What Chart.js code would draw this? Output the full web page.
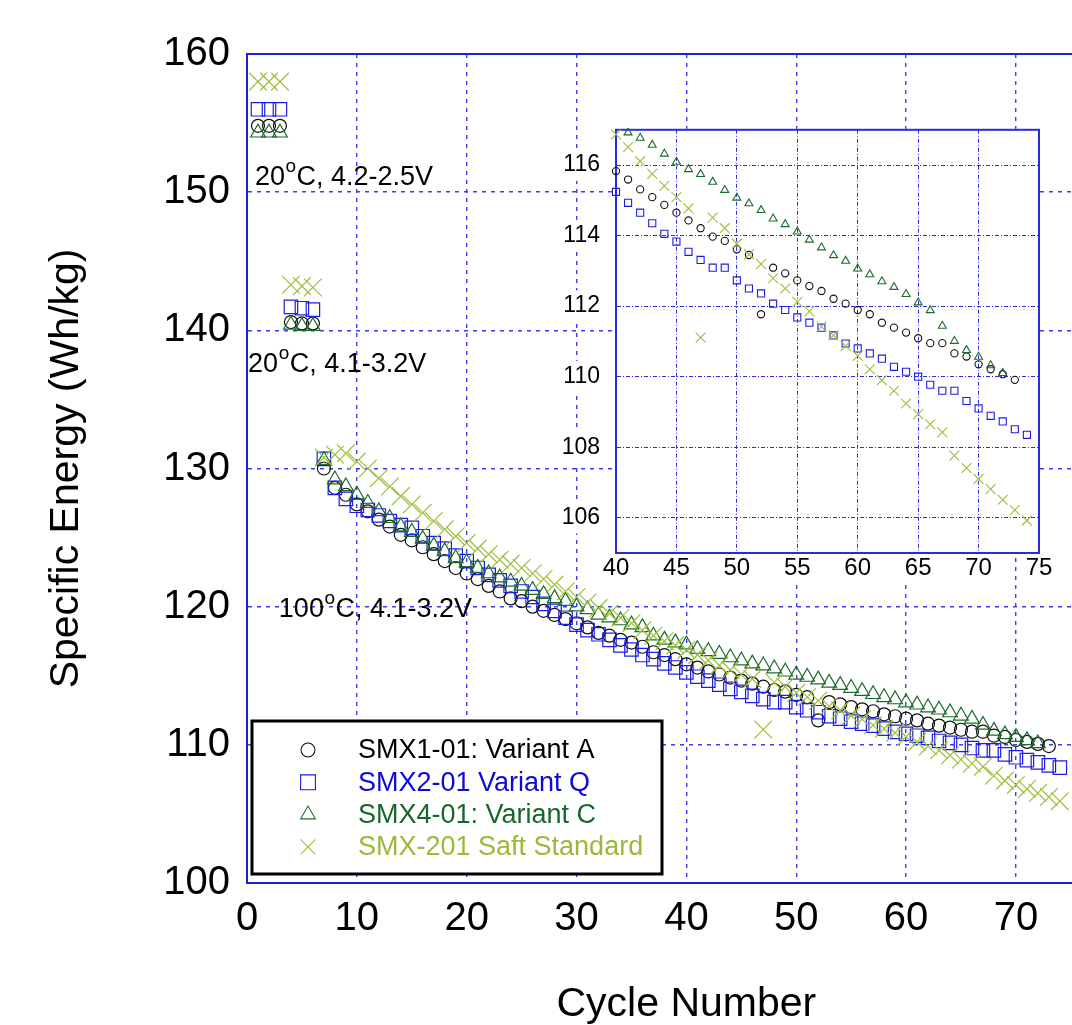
<!DOCTYPE html>
<html>
<head>
<meta charset="utf-8">
<script src="https://cdn.jsdelivr.net/npm/chart.js@4.4.1/dist/chart.umd.min.js"></script>
<style>
  html, body { margin: 0; padding: 0; background: #fff; overflow: hidden; width: 1072px; height: 1025px; }
  #main { position: absolute; left: 0; top: 0; }
  #inset { position: absolute; left: 520px; top: 100px; }
</style>
</head>
<body>
<canvas id="main" width="1160" height="1025"></canvas>
<canvas id="inset" width="552" height="500"></canvas>
<script>
// cycle numbers (shared x values)
const cycles = [1, 2, 3, 4, 5, 6, 7, 8, 9, 10, 11, 12, 13, 14, 15, 16, 17, 18, 19, 20,
  21, 22, 23, 24, 25, 26, 27, 28, 29, 30, 31, 32, 33, 34, 35, 36, 37, 38, 39, 40,
  41, 42, 43, 44, 45, 46, 47, 48, 49, 50, 51, 52, 53, 54, 55, 56, 57, 58, 59, 60,
  61, 62, 63, 64, 65, 66, 67, 68, 69, 70, 71, 72, 73, 74];

// specific energy, Wh/kg (null = no reading)
const variantA = [154.8, 154.8, 154.8, 140.6, 140.5, 140.5, 130.0, 128.6, 128.1, 127.4,
  126.9, 126.3, 125.8, 125.2, 124.8, 124.3, 123.8, 123.3, 122.8, 122.4,
  122.0, 121.5, 121.1, 120.6, 120.4, 120.0, 119.7, 119.4, 119.1, 118.8,
  118.5, 118.1, 117.9, 117.6, 117.4, 117.1, 116.7, 116.5, 116.2, 115.83,
  115.59, 115.31, 115.09, 114.87, 114.65, 114.43, 114.21, 113.97, 113.85, 113.61,
  113.45, 111.77, 113.09, 112.93, 112.73, 112.57, 112.43, 112.21, 112.07, 111.89,
  111.77, 111.53, 111.39, 111.25, 111.09, 110.95, 110.95, 110.66, 110.57, 110.35,
  110.21, 110.07, 109.91, null];

const variantQ = [156.0, 156.0, 156.0, 141.7, 141.6, 141.5, 130.7, 128.6, 127.8, 127.3,
  127.0, 126.6, 126.2, 125.9, 125.7, 125.1, 124.6, 124.2, 123.7, 123.3,
  122.8, 122.3, 121.9, 121.5, 121.1, 120.7, 120.2, 119.7, 119.2, 118.7,
  118.3, 118.0, 117.6, 117.2, 116.9, 116.5, 116.2, 115.9, 115.6, 115.24,
  114.93, 114.65, 114.35, 114.05, 113.83, 113.54, 113.31, 113.09, 113.09, 112.73,
  112.50, 112.36, 112.07, 111.89, 111.68, 111.53, 111.39, 111.17, 110.94, 110.80,
  110.66, 110.51, 110.28, 110.14, 110.00, 109.77, 109.60, 109.60, 109.31, 109.10,
  108.89, 108.73, 108.51, 108.35];

const variantC = [154.3, 154.3, 154.3, 140.4, 140.3, 140.3, 130.6, 129.2, 128.7, 128.1,
  127.5, 126.9, 126.4, 125.8, 125.4, 124.9, 124.4, 124.0, 123.5, 123.2,
  122.8, 122.4, 122.1, 121.8, 121.5, 121.2, 120.9, 120.6, 120.4, 120.0,
  119.8, 119.4, 119.2, 119.0, 118.7, 118.5, 117.9, 117.6, 117.4, 117.25,
  116.92, 116.77, 116.57, 116.32, 116.09, 115.88, 115.74, 115.52, 115.29, 115.07,
  114.91, 114.72, 114.48, 114.32, 114.11, 113.88, 113.66, 113.44, 113.28, 113.06,
  112.90, 112.70, 112.54, 112.34, 112.10, 111.88, 111.44, 111.01, 110.75, 110.56,
  110.32, 110.10, null, null];

const saftStandard = [158.0, 158.0, 158.0, 143.3, 143.2, 143.1, 130.8, 131.0, 131.1, 130.5,
  130.0, 129.3, 128.7, 128.0, 127.4, 126.8, 126.2, 125.6, 125.1, 124.6,
  124.2, 123.8, 123.4, 123.1, 122.8, 122.4, 122.0, 121.6, 121.1, 120.7,
  120.3, 119.9, 119.5, 119.2, 118.8, 118.3, 117.9, 117.5, 117.2, 116.87,
  116.51, 116.11, 115.75, 115.41, 115.09, 114.77, 111.11, 114.51, 114.21, 113.77,
  113.47, 113.19, 112.79, 112.50, 112.12, 111.85, 111.42, 111.17, 110.87, 110.59,
  110.21, 109.90, 109.60, 109.24, 108.94, 108.65, 108.42, 107.76, 107.41, 107.10,
  106.81, 106.51, 106.22, 105.92];

const seriesLabels = ['SMX1-01: Variant A', 'SMX2-01 Variant Q', 'SMX4-01: Variant C', 'SMX-201 Saft Standard'];

// tick labels
const mainXTicks = [0, 10, 20, 30, 40, 50, 60, 70, 80];
const mainYTicks = [100, 110, 120, 130, 140, 150, 160];
const insetXTicks = [40, 45, 50, 55, 60, 65, 70, 75];
const insetYTicks = [106, 108, 110, 112, 114, 116];

// ---------------- styling ----------------
const FONT = "'Liberation Sans', Arial, Helvetica, sans-serif";
Chart.defaults.font.family = FONT;
Chart.defaults.color = '#000';

const styles = [
  { pointStyle: 'circle',   color: '#111111', text: '#000000', r: 6.5,  ri: 3.6, rl: 7 },
  { pointStyle: 'rect',     color: '#1c1ce6', text: '#0b0bd4', r: 9.5,  ri: 5,   rl: 10.5 },
  { pointStyle: 'triangle', color: '#1d6b2b', text: '#17672a', r: 8.5,  ri: 4.6, rl: 8.5 },
  { pointStyle: 'crossRot', color: '#9dbf3c', text: '#9ab93a', r: 12.5, ri: 7,   rl: 10.5 }
];
const allSeries = [variantA, variantQ, variantC, saftStandard];

function toPoints(vals) {
  return cycles.map((c, i) => ({ x: c, y: vals[i] })).filter(p => p.y !== null);
}

function makeDatasets(inset) {
  return allSeries.map((vals, i) => ({
    label: seriesLabels[i],
    data: toPoints(vals),
    showLine: false,
    order: 4 - i,  // later series on top
    pointStyle: styles[i].pointStyle,
    pointRadius: inset ? styles[i].ri : styles[i].r,
    pointHoverRadius: inset ? styles[i].ri : styles[i].r,
    pointBorderColor: styles[i].color,
    pointBackgroundColor: 'rgba(0,0,0,0)',
    pointBorderWidth: inset ? 1.1 : 1.2,
    clip: inset ? { left: 8, right: 8, top: 2, bottom: 8 } : 8
  }));
}

function drawMarker(ctx, style, x, y, r) {
  ctx.beginPath();
  if (style === 'circle') {
    ctx.arc(x, y, r, 0, Math.PI * 2);
  } else if (style === 'rect') {
    const s = r * Math.SQRT1_2;
    ctx.rect(x - s, y - s, 2 * s, 2 * s);
  } else if (style === 'triangle') {
    ctx.moveTo(x, y - r);
    ctx.lineTo(x + r * 0.866, y + r / 2);
    ctx.lineTo(x - r * 0.866, y + r / 2);
    ctx.closePath();
  } else {
    const s = r * Math.SQRT1_2;
    ctx.moveTo(x - s, y - s); ctx.lineTo(x + s, y + s);
    ctx.moveTo(x + s, y - s); ctx.lineTo(x - s, y + s);
  }
  ctx.stroke();
}

// test-condition notes, anchored in data units
const notes = [
  { x: 0.72, y: 150.52, pre: '20',  post: 'C, 4.2-2.5V' },
  { x: 0.10, y: 136.99, pre: '20',  post: 'C, 4.1-3.2V' },
  { x: 2.90, y: 119.26, pre: '100', post: 'C, 4.1-3.2V' }
];

const mainDecor = {
  id: 'mainDecor',
  beforeDatasetsDraw(chart) {
    // top frame line (right side falls outside the page)
    const { ctx, chartArea: a } = chart;
    ctx.save();
    ctx.strokeStyle = '#1f1fd6';
    ctx.lineWidth = 2;
    ctx.beginPath();
    ctx.moveTo(a.left, a.top);
    ctx.lineTo(a.right, a.top);
    ctx.stroke();
    ctx.restore();
  },
  afterDraw(chart) {
    const { ctx, chartArea: a, scales } = chart;
    ctx.save();
    // notes
    ctx.fillStyle = '#000';
    ctx.textBaseline = 'alphabetic';
    notes.forEach(n => {
      const px = scales.x.getPixelForValue(n.x);
      const py = scales.y.getPixelForValue(n.y);
      ctx.font = '27px ' + FONT;
      ctx.fillText(n.pre, px, py);
      const w1 = ctx.measureText(n.pre).width;
      ctx.font = '19px ' + FONT;
      ctx.fillText('o', px + w1 + 0.5, py - 13);
      const w2 = ctx.measureText('o').width;
      ctx.font = '27px ' + FONT;
      ctx.fillText(n.post, px + w1 + w2 + 1, py);
    });
    // legend box
    const bx = a.left + 5, by = 721, bw = 410, bh = 153;
    ctx.fillStyle = '#fff';
    ctx.fillRect(bx, by, bw, bh);
    ctx.strokeStyle = '#000';
    ctx.lineWidth = 3;
    ctx.strokeRect(bx, by, bw, bh);
    ctx.font = '27px ' + FONT;
    ctx.textBaseline = 'middle';
    seriesLabels.forEach((label, i) => {
      const rowY = 750 + i * 32.3;
      ctx.strokeStyle = styles[i].color;
      ctx.lineWidth = 1.1;
      drawMarker(ctx, styles[i].pointStyle, bx + 56, rowY, styles[i].rl);
      ctx.fillStyle = styles[i].text;
      ctx.fillText(label, bx + 106, rowY + 1);
    });
    ctx.restore();
  }
};

new Chart(document.getElementById('main'), {
  type: 'scatter',
  data: { datasets: makeDatasets(false) },
  options: {
    responsive: false,
    animation: false,
    devicePixelRatio: 1,
    layout: { padding: { left: 0, top: 54, right: 27, bottom: 0 } },
    plugins: { legend: { display: false }, tooltip: { enabled: false } },
    scales: {
      x: {
        type: 'linear', min: 0, max: 80,
        afterBuildTicks: s => { s.ticks = mainXTicks.map(v => ({ value: v })); },
        afterFit: s => { s.height = 142; },
        grid: { color: '#3d3df0', lineWidth: 1.4, drawTicks: false },
        border: { color: '#1f1fd6', width: 2, dash: [4, 5] },
        ticks: { font: { size: 40 }, color: '#000', padding: 12, maxRotation: 0, autoSkip: false },
        title: { display: true, text: 'Cycle Number', font: { size: 41, lineHeight: 1 }, color: '#000', padding: { top: 0, bottom: 0 } }
      },
      y: {
        type: 'linear', min: 100, max: 160,
        afterBuildTicks: s => { s.ticks = mainYTicks.map(v => ({ value: v })); },
        afterFit: s => { s.width = 247; },
        grid: { color: '#3d3df0', lineWidth: 1.4, drawTicks: false },
        border: { color: '#1f1fd6', width: 2, dash: [4, 5] },
        ticks: { font: { size: 40 }, color: '#000', padding: 17, autoSkip: false },
        title: { display: true, text: 'Specific Energy (Wh/kg)', font: { size: 41, lineHeight: 1 }, color: '#000', padding: { top: 46, bottom: 0 } }
      }
    }
  },
  plugins: [mainDecor]
});

// ---------------- inset (zoom on cycles 40-75) ----------------
const insetDecor = {
  id: 'insetDecor',
  beforeDraw(chart) {
    const { ctx, chartArea: a } = chart;
    ctx.save();
    ctx.fillStyle = '#fff';
    ctx.fillRect(a.left - 1, a.top - 1, a.right - a.left + 2, a.bottom - a.top + 2);
    ctx.restore();
  },
  beforeDatasetsDraw(chart) {
    const { ctx, chartArea: a } = chart;
    ctx.save();
    ctx.strokeStyle = '#2a2ae0';
    ctx.lineWidth = 2;
    ctx.strokeRect(a.left, a.top, a.right - a.left, a.bottom - a.top);
    ctx.restore();
  }
};

new Chart(document.getElementById('inset'), {
  type: 'scatter',
  data: { datasets: makeDatasets(true) },
  options: {
    responsive: false,
    animation: false,
    devicePixelRatio: 1,
    layout: { padding: { left: 0, top: 29, right: 33, bottom: 0 } },
    plugins: { legend: { display: false }, tooltip: { enabled: false } },
    scales: {
      x: {
        type: 'linear', min: 40, max: 75,
        afterBuildTicks: s => { s.ticks = insetXTicks.map(v => ({ value: v })); },
        afterFit: s => { s.height = 47; },
        grid: { color: '#2d2de0', lineWidth: 1, drawTicks: false },
        border: { color: '#2a2ae0', width: 2, dash: [4, 2, 1, 2] },
        ticks: { font: { size: 24 }, color: '#000', padding: 1, maxRotation: 0, autoSkip: false,
                 showLabelBackdrop: true, backdropColor: '#fff', backdropPadding: 1 }
      },
      y: {
        type: 'linear', min: 105, max: 117,
        afterBuildTicks: s => { s.ticks = insetYTicks.map(v => ({ value: v })); },
        afterFit: s => { s.width = 96; },
        grid: { color: '#2d2de0', lineWidth: 1, drawTicks: false },
        border: { color: '#2a2ae0', width: 2, dash: [4, 2, 1, 2] },
        ticks: { font: { size: 23 }, color: '#000', padding: 16, autoSkip: false,
                 showLabelBackdrop: true, backdropColor: '#fff', backdropPadding: 2 }
      }
    }
  },
  plugins: [insetDecor]
});
</script>
</body>
</html>
